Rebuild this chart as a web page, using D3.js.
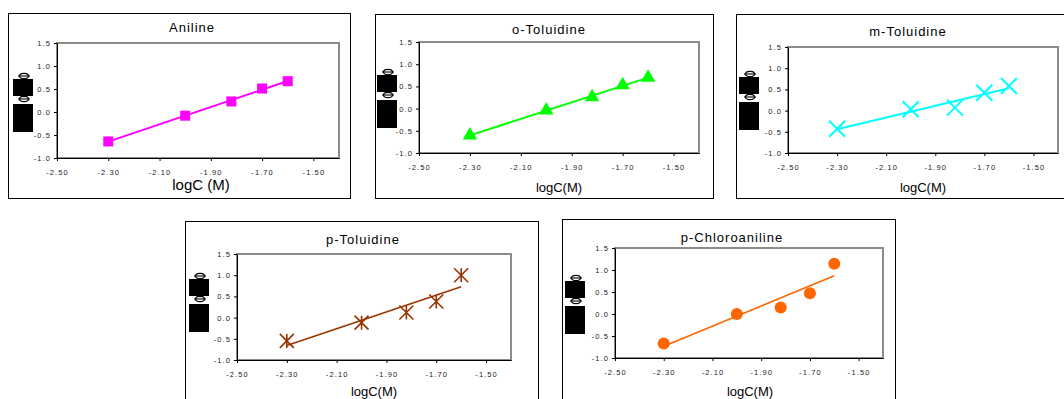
<!DOCTYPE html>
<html>
<head>
<meta charset="utf-8">
<script src="https://cdn.jsdelivr.net/npm/d3@7"></script>
<style>
  body { margin: 0; background: #fff; }
  svg { display: block; font-family: "Liberation Sans", Arial, sans-serif; }
</style>
</head>
<body>
<svg id="chart" width="1064" height="399"></svg>
<script>
// shared x values: logC (M)
const logC = [-2.30, -2.00, -1.82, -1.70, -1.60];

// y values
const anilineY = [-0.64, -0.08, 0.23, 0.51, 0.67];
const oToluidineY = [-0.60, -0.04, 0.26, 0.53, 0.70];
const mToluidineY = [-0.43, 0.03, 0.07, 0.42, 0.58];
const pToluidineY = [-0.55, -0.12, 0.12, 0.38, 1.00];
const pChloroY = [-0.67, 0.00, 0.15, 0.47, 1.14];

const titles = ['Aniline', 'o-Toluidine', 'm-Toluidine', 'p-Toluidine', 'p-Chloroaniline'];
const xTicks = [-2.50, -2.30, -2.10, -1.90, -1.70, -1.50];
const yTicks = [-1.0, -0.5, 0.0, 0.5, 1.0, 1.5];

const series = [anilineY, oToluidineY, mToluidineY, pToluidineY, pChloroY];
const colors = ['#ff00ff', '#00ff00', '#00ffff', '#993300', '#ff6600'];
const markers = ['square', 'triangle', 'cross', 'star', 'circle'];

// panel geometry: outer box, plot area, label anchors
const panels = [
  { box: [8, 13, 342, 185], plot: [57, 43, 339, 158], title: [192, 32], xlab: [201, 190], xlabSize: 15, xlabText: 'logC (M)', yl: [23, 79], lw: 2 },
  { box: [375, 14, 338, 184], plot: [419, 42, 699, 153], title: [549, 34], xlab: [559, 192], xlabSize: 13, xlabText: 'logC(M)', yl: [387, 75], lw: 2 },
  { box: [736, 14, 330, 184], plot: [788, 47, 1058, 153], title: [908, 36], xlab: [923, 192], xlabSize: 13, xlabText: 'logC(M)', yl: [749, 77], lw: 2 },
  { box: [185, 221, 353, 190], plot: [237, 254, 511, 360], title: [363, 244], xlab: [374, 396], xlabSize: 13, xlabText: 'logC(M)', yl: [199, 279], lw: 1.6 },
  { box: [562, 219, 333, 190], plot: [615, 248, 883, 358], title: [732, 242], xlab: [750, 396], xlabSize: 13, xlabText: 'logC(M)', yl: [575, 281], lw: 1.6 }
];

const svg = d3.select('#chart');
const fmtX = v => d3.format('.2f')(v).replace('\u2212', '-');
const fmtY = v => d3.format('.1f')(v).replace('\u2212', '-');

function linearFit(xs, ys) {
  const mx = d3.mean(xs), my = d3.mean(ys);
  const sxy = d3.sum(xs, (x, i) => (x - mx) * (ys[i] - my));
  const sxx = d3.sum(xs, x => (x - mx) * (x - mx));
  const slope = sxy / sxx;
  return x => my + slope * (x - mx);
}

panels.forEach((p, i) => {
  const g = svg.append('g');
  const [l, t, r, b] = p.plot;

  g.append('rect')
    .attr('x', p.box[0] + 0.5).attr('y', p.box[1] + 0.5)
    .attr('width', p.box[2]).attr('height', p.box[3])
    .attr('fill', '#fff').attr('stroke', '#000').attr('stroke-width', 1);

  const x = d3.scaleLinear().domain([-2.5, -1.4]).range([l, r]);
  const y = d3.scaleLinear().domain([-1.0, 1.5]).range([b, t]);

  // plot frame (grey) then black axes
  g.append('rect')
    .attr('x', l).attr('y', t).attr('width', r - l).attr('height', b - t)
    .attr('fill', '#fff').attr('stroke', '#8c8c8c').attr('stroke-width', 2);

  const xAxis = g.append('g')
    .attr('transform', `translate(0,${b})`)
    .call(d3.axisBottom(x).tickValues(xTicks).tickFormat(fmtX).tickSize(3).tickSizeOuter(0));
  const yAxis = g.append('g')
    .attr('transform', `translate(${l},0)`)
    .call(d3.axisLeft(y).tickValues(yTicks).tickFormat(fmtY).tickSize(3).tickSizeOuter(0));

  [xAxis, yAxis].forEach(a => {
    a.select('.domain').attr('stroke', '#000').attr('stroke-width', 1);
    a.selectAll('.tick line').attr('stroke', '#000');
    a.selectAll('.tick text')
      .attr('font-size', 7.5).attr('fill', '#222')
      .attr('letter-spacing', '1.1px')
      .attr('font-family', '"Liberation Sans", Arial, sans-serif');
  });
  xAxis.selectAll('.tick text').attr('dy', '1.4em');
  yAxis.selectAll('.tick text').attr('x', -6);

  // titles and axis label
  g.append('text')
    .attr('x', p.title[0]).attr('y', p.title[1])
    .attr('text-anchor', 'middle').attr('font-size', 13)
    .attr('letter-spacing', '1px')
    .text(titles[i]);
  g.append('text')
    .attr('x', p.xlab[0]).attr('y', p.xlab[1])
    .attr('text-anchor', 'middle').attr('font-size', p.xlabSize)
    .text(p.xlabText);

  // y label as rendered in the source (symbol glyphs with missing-glyph boxes)
  const yl = g.append('g');
  const cx = p.yl[0];
  yl.append('rect').attr('x', cx - 10).attr('y', p.yl[1]).attr('width', 20).attr('height', 17).attr('fill', '#000');
  yl.append('rect').attr('x', cx - 10).attr('y', p.yl[1] + 25).attr('width', 20).attr('height', 28).attr('fill', '#000');
  [p.yl[1] - 3, p.yl[1] + 20].forEach(cy => {
    yl.append('ellipse')
      .attr('cx', cx + 1).attr('cy', cy).attr('rx', 4.5).attr('ry', 2.6)
      .attr('fill', 'none').attr('stroke', '#000').attr('stroke-width', 1.1);
    yl.append('line')
      .attr('x1', cx - 5).attr('x2', cx + 7).attr('y1', cy).attr('y2', cy)
      .attr('stroke', '#000').attr('stroke-width', 1.1);
  });

  // fitted line
  const ys = series[i];
  const fit = linearFit(logC, ys);
  const x0 = d3.min(logC), x1 = d3.max(logC);
  g.append('line')
    .attr('x1', x(x0)).attr('y1', y(fit(x0)))
    .attr('x2', x(x1)).attr('y2', y(fit(x1)))
    .attr('stroke', colors[i]).attr('stroke-width', p.lw);

  // markers
  const pts = g.append('g').selectAll('g')
    .data(logC.map((v, k) => ({ x: v, y: ys[k] })))
    .join('g')
    .attr('transform', d => `translate(${x(d.x)},${y(d.y)})`);

  const kind = markers[i];
  if (kind === 'square') {
    pts.append('path').attr('d', d3.symbol(d3.symbolSquare, 100)).attr('fill', colors[i]);
  } else if (kind === 'triangle') {
    pts.append('path').attr('d', d3.symbol(d3.symbolTriangle, 90)).attr('fill', colors[i]);
  } else if (kind === 'circle') {
    pts.append('circle').attr('r', 6).attr('fill', colors[i]);
  } else {
    const s = kind === 'cross' ? 8 : 7;
    pts.append('path')
      .attr('d', `M${-s},${-s}L${s},${s}M${-s},${s}L${s},${-s}` + (kind === 'star' ? `M0,${-s}L0,${s}` : ''))
      .attr('stroke', colors[i]).attr('stroke-width', kind === 'cross' ? 2 : 1.6).attr('fill', 'none');
  }
});
</script>
</body>
</html>
